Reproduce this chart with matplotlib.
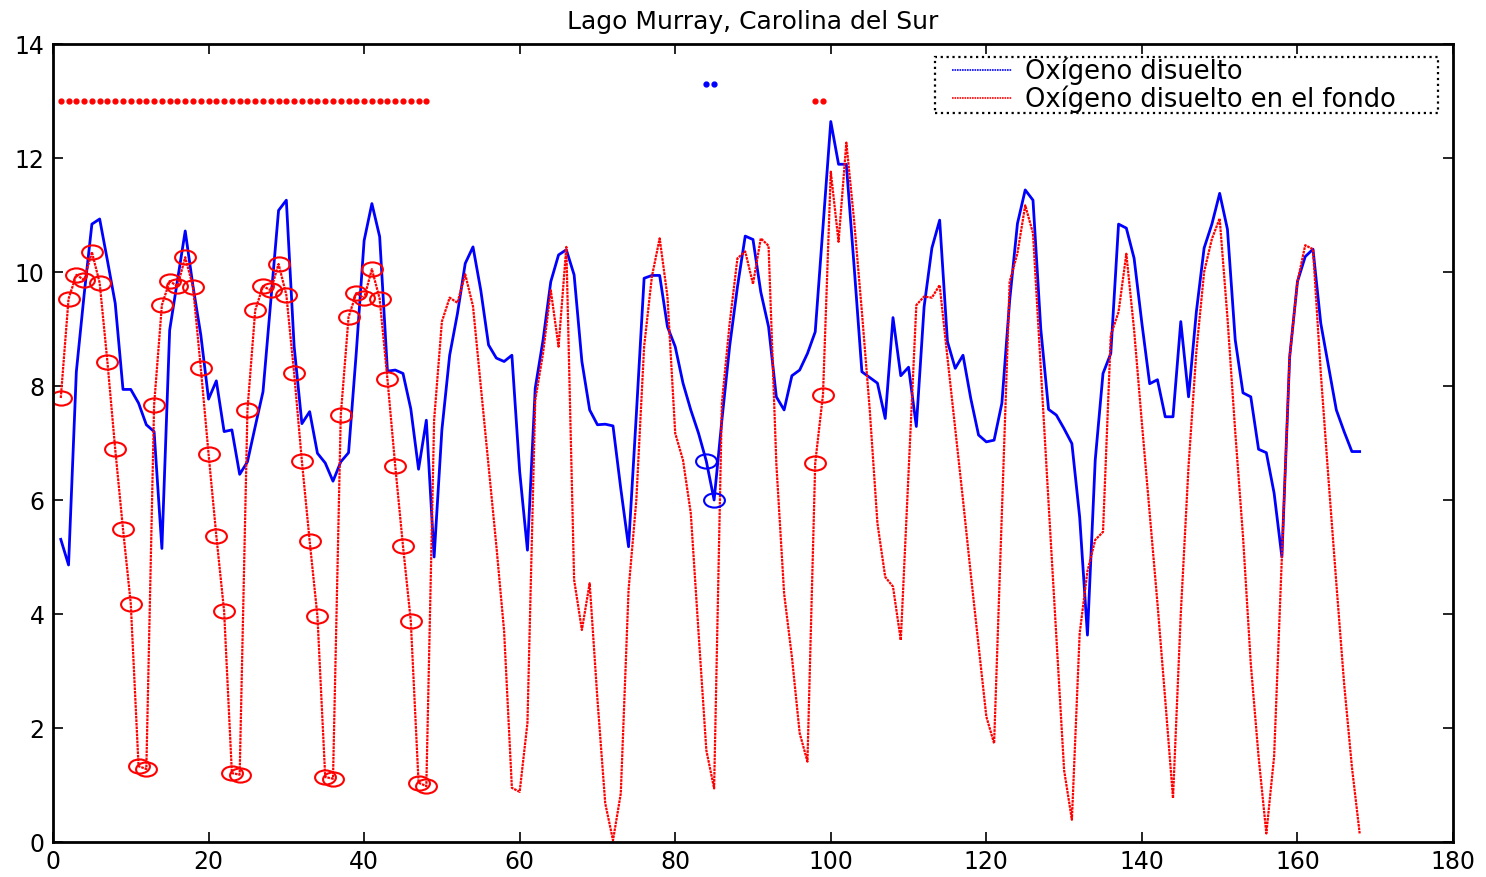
import numpy as np
import matplotlib
matplotlib.use('Agg')
import matplotlib.pyplot as plt
from matplotlib.path import Path
from matplotlib.patches import Rectangle

# ---------------------------------------------------------------------------------
# data (one sample per step, x = 1..168)

blue_do = [
    5.31, 4.86, 8.25, 9.6, 10.84, 10.93, 10.2, 9.45, 7.94, 7.94, 7.7, 7.32,
    7.2, 5.15, 8.98, 9.85, 10.72, 9.75, 8.9, 7.77, 8.09, 7.2, 7.23, 6.45,
    6.67, 7.29, 7.9, 9.5, 11.08, 11.26, 8.7, 7.34, 7.55, 6.82, 6.65, 6.33,
    6.67, 6.83, 8.6, 10.55, 11.2, 10.62, 8.26, 8.28, 8.22, 7.6, 6.54, 7.4,
    5.0, 7.23, 8.54, 9.27, 10.15, 10.44, 9.68, 8.72, 8.49, 8.43, 8.54, 6.5,
    5.12, 7.96, 8.8, 9.83, 10.3, 10.39, 9.95, 8.43, 7.58, 7.32, 7.33, 7.3,
    6.2, 5.18, 7.5, 9.89, 9.94, 9.94, 9.04, 8.69, 8.05, 7.58, 7.17, 6.68,
    6.0, 7.4, 8.7, 9.74, 10.63, 10.57, 9.65, 9.04, 7.81, 7.58, 8.18, 8.28,
    8.57, 8.95, 10.8, 12.64, 11.89, 11.89, 10.1, 8.25, 8.15, 8.05, 7.43, 9.2,
    8.18, 8.33, 7.29, 9.39, 10.42, 10.91, 8.78, 8.31, 8.54, 7.78, 7.14, 7.02,
    7.05, 7.7, 9.5, 10.85, 11.44, 11.26, 9.0, 7.59, 7.49, 7.25, 6.99, 5.7,
    3.63, 6.7, 8.22, 8.57, 10.84, 10.77, 10.24, 9.1, 8.04, 8.11, 7.46, 7.46,
    9.13, 7.81, 9.3, 10.42, 10.84, 11.38, 10.75, 8.81, 7.88, 7.81, 6.89, 6.83,
    6.12, 5.0, 8.51, 9.83, 10.27, 10.4, 9.1, 8.34, 7.58, 7.2, 6.85, 6.85,
]

red_do_bottom = [
    7.79, 9.53, 9.95, 9.86, 10.35, 9.81, 8.42, 6.89, 5.49, 4.18, 1.33, 1.28,
    7.67, 9.42, 9.84, 9.75, 10.26, 9.74, 8.32, 6.81, 5.37, 4.05, 1.21, 1.18,
    7.58, 9.33, 9.75, 9.68, 10.14, 9.6, 8.23, 6.68, 5.28, 3.96, 1.14, 1.11,
    7.49, 9.21, 9.63, 9.54, 10.05, 9.53, 8.12, 6.6, 5.19, 3.88, 1.04, 0.98,
    7.4, 9.13, 9.55, 9.46, 9.96, 9.4, 7.99, 6.6, 5.2, 3.7, 0.95, 0.88,
    2.09, 7.75, 8.57, 9.68, 8.69, 10.44, 4.6, 3.72, 4.54, 2.5, 0.68, 0.03,
    0.85, 4.42, 6.0, 8.69, 9.92, 10.59, 9.57, 7.17, 6.7, 5.77, 3.67, 1.61,
    0.94, 7.7, 9.1, 10.24, 10.36, 9.79, 10.59, 10.46, 6.64, 4.36, 3.25, 1.91,
    1.41, 6.65, 7.85, 11.76, 10.53, 12.27, 10.9, 9.3, 7.6, 5.59, 4.65, 4.48,
    3.54, 6.5, 9.42, 9.57, 9.55, 9.77, 8.5, 7.25, 6.0, 4.7, 3.45, 2.2,
    1.73, 5.8, 9.83, 10.33, 11.17, 10.68, 8.3, 5.95, 3.6, 1.26, 0.39, 3.66,
    4.75, 5.3, 5.44, 8.89, 9.3, 10.32, 8.98, 7.35, 5.77, 4.19, 2.5, 0.77,
    4.0, 6.6, 8.6, 10.0, 10.58, 10.94, 9.2, 7.2, 5.36, 3.13, 1.5, 0.15,
    1.5, 5.0, 8.51, 9.83, 10.47, 10.4, 8.23, 6.35, 4.54, 2.78, 1.32, 0.15,
]

# samples flagged with circles (and a flag dot row near the top)
red_flagged = list(range(1, 49)) + [98, 99]
blue_flagged = [84, 85]
red_flag_level = 13.0
blue_flag_level = 13.3

title = 'Lago Murray, Carolina del Sur'
labels = ['Oxígeno disuelto', 'Oxígeno disuelto en el fondo']
xticks = list(range(0, 181, 20))
yticks = list(range(0, 15, 2))

# ---------------------------------------------------------------------------------

x = np.arange(1, len(blue_do) + 1)
blue = np.array(blue_do)
red = np.array(red_do_bottom)

# squashed circle, like the stretched matlab markers
circ = Path.unit_circle()
ellipse = Path(circ.vertices * np.array([1.0, 0.68]), circ.codes)

plt.rcParams['font.family'] = ['DejaVu Sans']

fig = plt.figure(figsize=(14.86, 8.77), dpi=100)
ax = fig.add_axes([53 / 1486, 35 / 877, 1400 / 1486, 798 / 877])

ax.plot(x, blue, '-', color='#0000ff', linewidth=2.0, label=labels[0])
ax.plot(x, red, linestyle=(0, (1.2, 0.4)), color='#ff0000', linewidth=1.6,
        label=labels[1])

ri = np.array(red_flagged) - 1
bi = np.array(blue_flagged) - 1
ax.plot(x[ri], red[ri], linestyle='none', marker=ellipse, markersize=15,
        markerfacecolor='none', markeredgecolor='#ff0000', markeredgewidth=1.5)
ax.plot(x[bi], blue[bi], linestyle='none', marker=ellipse, markersize=15,
        markerfacecolor='none', markeredgecolor='#0000ff', markeredgewidth=1.5)

ax.plot(x[ri], np.full(len(ri), red_flag_level), linestyle='none', marker='o',
        markersize=3.5, color='#ff0000')
ax.plot(x[bi], np.full(len(bi), blue_flag_level), linestyle='none', marker='o',
        markersize=3.5, color='#0000ff')

ax.set_xlim(0, 180)
ax.set_ylim(0, 14)
ax.set_xticks(xticks)
ax.set_yticks(yticks)
ax.tick_params(direction='in', length=7, width=1.2, top=True, right=True,
               labelsize=17, pad=6)
for s in ax.spines.values():
    s.set_linewidth(2.0)

ax.set_title(title, fontsize=18, pad=11)

# legend without its own frame; the matlab-style dotted box is drawn separately
leg = ax.legend(loc='upper left', bbox_to_anchor=(0.642, 0.9825), fontsize=18.5,
                frameon=False, borderpad=0.0, labelspacing=0.0,
                handlelength=2.33, handletextpad=0.5, borderaxespad=0.0)
for h in leg.get_lines():
    h.set_linewidth(1.2)
    h.set_linestyle((0, (1, 0.5)))

box = Rectangle((0.630, 0.914), 0.359, 0.0697, transform=ax.transAxes,
                facecolor='white', edgecolor='black', linestyle=':',
                linewidth=1.6, zorder=4)
ax.add_patch(box)
leg.set_zorder(5)

fig.savefig('out.png', dpi=100)
plt.close(fig)
